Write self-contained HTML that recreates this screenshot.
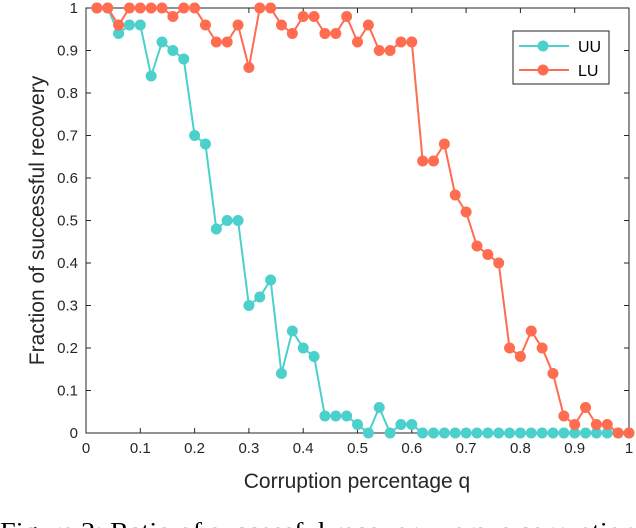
<!DOCTYPE html>
<html><head><meta charset="utf-8"><style>
html,body{margin:0;padding:0;background:#fff;overflow:hidden;}
svg{display:block;}
text{font-family:"Liberation Sans",sans-serif;}
</style></head><body>
<svg id="chart" width="636" height="528" viewBox="0 0 636 528"></svg>
<script>
const xValues=[0.02,0.04,0.06,0.08,0.10,0.12,0.14,0.16,0.18,0.20,0.22,0.24,0.26,0.28,0.30,0.32,0.34,0.36,0.38,0.40,0.42,0.44,0.46,0.48,0.50,0.52,0.54,0.56,0.58,0.60,0.62,0.64,0.66,0.68,0.70,0.72,0.74,0.76,0.78,0.80,0.82,0.84,0.86,0.88,0.90,0.92,0.94,0.96,0.98,1.00];
const uuValues=[1,1,0.94,0.96,0.96,0.84,0.92,0.90,0.88,0.70,0.68,0.48,0.50,0.50,0.30,0.32,0.36,0.14,0.24,0.20,0.18,0.04,0.04,0.04,0.02,0,0.06,0,0.02,0.02,0,0,0,0,0,0,0,0,0,0,0,0,0,0,0,0,0,0,0,0];
const luValues=[1,1,0.96,1,1,1,1,0.98,1,1,0.96,0.92,0.92,0.96,0.86,1,1,0.96,0.94,0.98,0.98,0.94,0.94,0.98,0.92,0.96,0.90,0.90,0.92,0.92,0.64,0.64,0.68,0.56,0.52,0.44,0.42,0.40,0.20,0.18,0.24,0.20,0.14,0.04,0.02,0.06,0.02,0.02,0,0];
const xTicks=[0,0.1,0.2,0.3,0.4,0.5,0.6,0.7,0.8,0.9,1];
const yTicks=[0,0.1,0.2,0.3,0.4,0.5,0.6,0.7,0.8,0.9,1];
const xTickLabels=["0","0.1","0.2","0.3","0.4","0.5","0.6","0.7","0.8","0.9","1"];
const yTickLabels=["0","0.1","0.2","0.3","0.4","0.5","0.6","0.7","0.8","0.9","1"];

const L=86,R=629,T=8,B=433;
const sx=v=>L+v*(R-L);
const sy=v=>B-v*(B-T);
const svg=document.getElementById('chart');
const NS='http://www.w3.org/2000/svg';
function mk(tag,attrs,parent){const e=document.createElementNS(NS,tag);for(const k in attrs)e.setAttribute(k,attrs[k]);(parent||svg).appendChild(e);return e;}

const frame=mk('rect',{x:L,y:T,width:R-L,height:B-T,fill:'none',stroke:'#262626','stroke-width':1});



xTicks.forEach((t,i)=>{
  const x=sx(t);
  const tk=mk('path',{d:`M${x},${B}V${B-5}M${x},${T}V${T+5}`,stroke:'#262626','stroke-width':1});
  
  
  const lb=mk('text',{x:x,y:B+20,'text-anchor':'middle','font-size':15,fill:'#262626'});
  lb.textContent=xTickLabels[i];
  
  
});
yTicks.forEach((t,i)=>{
  const y=sy(t);
  const tk=mk('path',{d:`M${L},${y}H${L+5}M${R},${y}H${R-5}`,stroke:'#262626','stroke-width':1});
  
  
  const lb=mk('text',{x:L-8,y:y+5,'text-anchor':'end','font-size':15,fill:'#262626'});
  lb.textContent=yTickLabels[i];
  
  
});

function series(vals,color,name){
  const g=mk('g',{});
  
  
  const d=vals.map((v,i)=>(i?'L':'M')+sx(xValues[i])+','+sy(v)).join('');
  const ln=mk('path',{d:d,fill:'none',stroke:color,'stroke-width':2},g);
  
  
  vals.forEach((v,i)=>{
    const c=mk('circle',{cx:sx(xValues[i]),cy:sy(v),r:5.5,fill:color},g);
    
    
  });
}
series(uuValues,'#4bd0cb','uu');
series(luValues,'#ff6c4f','lu');

const lg=mk('g',{});


mk('rect',{x:513,y:31,width:96,height:53,fill:'#fff',stroke:'#262626','stroke-width':1},lg);
[['UU','#4bd0cb',46],['LU','#ff6c4f',70]].forEach(([n,c,y])=>{
  const e=mk('g',{},lg);
  
  
  mk('line',{x1:519,x2:569,y1:y,y2:y,stroke:c,'stroke-width':2},e);
  mk('circle',{cx:543,cy:y,r:5.5,fill:c},e);
  const t=mk('text',{x:578,y:y+6,'font-size':16,fill:'#000'},e);
  t.textContent=n;
});

const xt=mk('text',{x:357,y:488,'text-anchor':'middle','font-size':21,fill:'#262626'});
xt.textContent='Corruption percentage q';


const yt=mk('text',{x:0,y:0,'text-anchor':'middle','font-size':21,fill:'#262626',transform:`translate(44,${(T+B)/2}) rotate(-90)`});
yt.textContent='Fraction of successful recovery';


const cap=mk('text',{x:0,y:539,'font-size':24,fill:'#000',textLength:636,lengthAdjust:'spacingAndGlyphs'});
cap.setAttribute('style','font-family:"Liberation Serif",serif');
cap.textContent='Figure 2: Ratio of successful recovery versus corruption';


</script>
</body></html>
